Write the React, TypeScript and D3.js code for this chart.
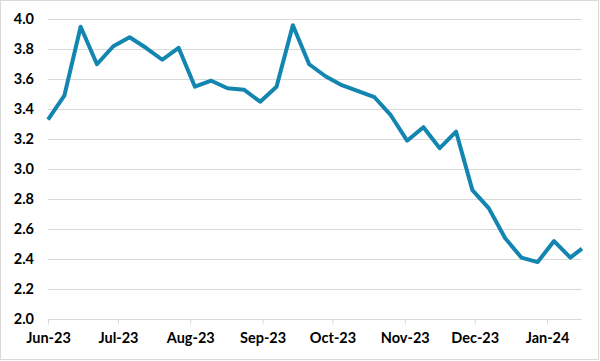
import {useEffect, useRef} from "react";
import * as d3 from 'd3';

// weekly readings, last one is a partial week
const dates = [
  '2023-06-01', '2023-06-08', '2023-06-15', '2023-06-22', '2023-06-29',
  '2023-07-06', '2023-07-13', '2023-07-20', '2023-07-27',
  '2023-08-03', '2023-08-10', '2023-08-17', '2023-08-24', '2023-08-31',
  '2023-09-07', '2023-09-14', '2023-09-21', '2023-09-28',
  '2023-10-05', '2023-10-12', '2023-10-19', '2023-10-26',
  '2023-11-02', '2023-11-09', '2023-11-16', '2023-11-23', '2023-11-30',
  '2023-12-07', '2023-12-14', '2023-12-21', '2023-12-28',
  '2024-01-04', '2024-01-11', '2024-01-16',
];
const values = [
  3.33, 3.49, 3.95, 3.70, 3.82,
  3.88, 3.81, 3.73, 3.81,
  3.55, 3.59, 3.54, 3.53, 3.45,
  3.55, 3.96, 3.70, 3.62,
  3.56, 3.52, 3.48, 3.36,
  3.19, 3.28, 3.14, 3.25, 2.86,
  2.74, 2.54, 2.41, 2.38,
  2.52, 2.41, 2.47,
];
const yTicks = [2.0, 2.2, 2.4, 2.6, 2.8, 3.0, 3.2, 3.4, 3.6, 3.8, 4.0];

const width = 600;
const height = 361;
const font = 'Lato, "Open Sans", sans-serif';

export default function App() {
  const svgRef = useRef<SVGSVGElement>(null);

  useEffect(() => {
    d3.select(svgRef.current).selectAll('*').remove();
    const svg = d3.select(svgRef.current);

    const parse = d3.timeParse('%Y-%m-%d');
    const data = dates.map((d, i) => ({date: parse(d) as Date, value: values[i]}));

    const margin = {top: 19.3, right: 18, bottom: 42, left: 48};

    const x = d3.scaleTime()
      .domain(d3.extent(data, d => d.date) as [Date, Date])
      .range([margin.left, width - margin.right]);

    const y = d3.scaleLinear()
      .domain([2, 4])
      .range([height - margin.bottom, margin.top]);

    // chart border
    svg.append('rect')
      .attr('x', 0.5).attr('y', 0.5)
      .attr('width', width - 2).attr('height', height - 2)
      .attr('fill', '#fff')
      .attr('stroke', '#d9d9d9');

    // gridlines
    svg.append('g')
      .selectAll('line')
      .data(yTicks)
      .join('line')
      .attr('x1', margin.left)
      .attr('x2', width - margin.right)
      .attr('y1', d => Math.round(y(d)) + 0.5)
      .attr('y2', d => Math.round(y(d)) + 0.5)
      .attr('stroke', '#d9d9d9')
      .attr('stroke-width', 1);

    // y labels
    svg.append('g')
      .selectAll('text')
      .data(yTicks)
      .join('text')
      .attr('x', 34)
      .attr('y', d => y(d))
      .attr('dy', '0.35em')
      .attr('text-anchor', 'end')
      .attr('font-family', font)
      .attr('font-weight', 700)
      .attr('font-size', 14.5)
      .attr('fill', '#000')
      .text(d => d3.format('.1f')(d));

    // x axis
    const months = x.ticks(d3.timeMonth.every(1) as d3.TimeInterval);
    const xAxis = d3.axisBottom(x)
      .tickValues(months)
      .tickSize(5)
      .tickPadding(8)
      .tickFormat(d => d3.timeFormat('%b-%y')(d as Date));

    const gx = svg.append('g')
      .attr('transform', `translate(0,${Math.round(y(2)) + 0.5})`)
      .call(xAxis);
    gx.select('.domain').remove();
    gx.selectAll('.tick line').attr('stroke', '#d9d9d9');
    gx.selectAll('.tick text')
      .attr('font-family', font)
      .attr('font-weight', 700)
      .attr('font-size', 14.5)
      .attr('fill', '#000');

    const line = d3.line<{date: Date, value: number}>()
      .x(d => x(d.date))
      .y(d => y(d.value));

    svg.append('path')
      .datum(data)
      .attr('fill', 'none')
      .attr('stroke', '#1285b0')
      .attr('stroke-width', 4)
      .attr('stroke-linejoin', 'round')
      .attr('d', line);
  }, []);

  return (
    <div style={{position: 'fixed', left: 0, top: 0}}>
      <svg ref={svgRef} width={width} height={height} style={{display: 'block'}}></svg>
    </div>
  );
}
